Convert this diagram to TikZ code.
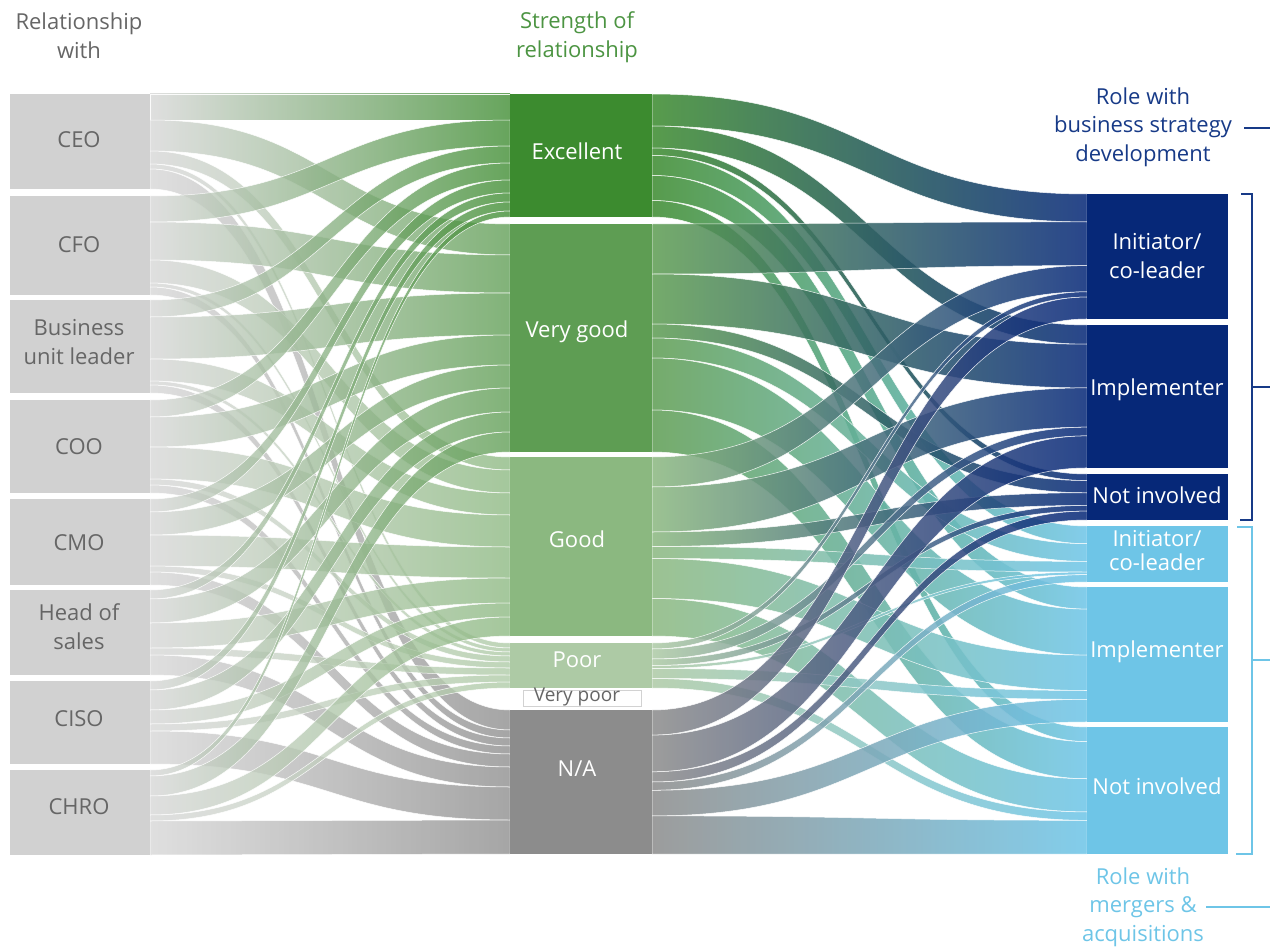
\documentclass[tikz,border=0pt]{standalone}
\usepackage{fontspec}
\setmainfont{Open Sans}
\definecolor{lgray}{HTML}{D1D1D1}
\definecolor{flowgray}{HTML}{D6D6D6}
\definecolor{txtgray}{HTML}{666666}
\definecolor{exc}{HTML}{3C8B2F}
\definecolor{vg}{HTML}{5E9D53}
\definecolor{good}{HTML}{8BB880}
\definecolor{poor}{HTML}{ADCAA5}
\definecolor{na}{HTML}{8C8C8C}
\definecolor{dblue}{HTML}{062878}
\definecolor{lblue}{HTML}{6EC5E7}
\definecolor{dtitle}{HTML}{173A87}
\definecolor{gtitle}{HTML}{4C9442}
\colorlet{mid0}{exc}
\colorlet{mid1}{vg}
\colorlet{mid2}{good}
\colorlet{mid3}{poor}
\colorlet{mid4}{na}
\colorlet{rc0}{dblue}
\colorlet{rc1}{dblue}
\colorlet{rc2}{dblue}
\colorlet{rc3}{lblue}
\colorlet{rc4}{lblue}
\colorlet{rc5}{lblue}
\newcommand\lab{\fontsize{22}{29}\selectfont}
\newcommand\sband[9]{%
  \pgfmathsetmacro\xm{(#1+#4)/2}%
  \path[flowstyle, fill opacity=#9, left color=#7, right color=#8]
    (#1,#2) .. controls (\xm,#2) and (\xm,#5) .. (#4,#5) -- (#4,#6)
    .. controls (\xm,#6) and (\xm,#3) .. (#1,#3) -- cycle;}
\tikzset{
  flowstyle/.style={draw=white, draw opacity=0.9, line width=0.5pt},
  lbox/.style={fill=lgray, anchor=north west, inner sep=0pt, minimum width=140pt},
  mbox/.style={anchor=north west, inner sep=0pt, minimum width=142pt},
  rbox/.style={anchor=north west, inner sep=0pt, minimum width=141pt},
  ltxt/.style={text=txtgray, align=center, font=\lab, inner sep=0pt},
  wtxt/.style={text=white, align=center, font=\lab, inner sep=0pt},
  ttl/.style={align=center, font=\fontsize{22}{28.5}\selectfont, inner sep=0pt},
  brk/.style={line width=1.3pt}
}
\begin{document}
\begin{tikzpicture}[x=1pt,y=-1pt]
\useasboundingbox (0,0) rectangle (1270,947);
% ---------- offsets ----------
\foreach \i/\t in {0/94,1/196,2/300,3/400,4/499,5/590,6/681,7/770}
  {\expandafter\xdef\csname loff\i\endcsname{\t}}
\foreach \j/\t in {0/94,1/224,2/457,3/643,4/710}
  {\expandafter\xdef\csname moff\j\endcsname{\t}
   \expandafter\xdef\csname mout\j\endcsname{\t}}
\foreach \k/\t in {0/194,1/325,2/474,3/526,4/587,5/727}
  {\expandafter\xdef\csname roff\k\endcsname{\t}}
% ---------- left -> middle flows ----------
\foreach \row [count=\i from 0] in {{26,31,13,5,20},{26,38,23,4,8},{17,42,22,4,8},{17,30,32,6,8},{13,23,31,6,13},{9,24,25,7,20},{9,20,14,7,33},{6,20,19,6,34}}{
  \foreach \v [count=\j from 0] in \row {
    \edef\ya{\csname loff\i\endcsname}
    \edef\yc{\csname moff\j\endcsname}
    \pgfmathsetmacro\yb{\ya+\v}
    \pgfmathsetmacro\yd{\yc+\v}
    \sband{150}{\ya}{\yb}{510}{\yc}{\yd}{flowgray}{mid\j}{0.78}
    \expandafter\xdef\csname loff\i\endcsname{\yb}
    \expandafter\xdef\csname moff\j\endcsname{\yd}
  }
}
% ---------- middle -> right flows ----------
\foreach \row [count=\j from 0] in {{32,22,7.5,20,25,16.5},{50,50,14,20,52,42},{30,45,14.5,12,40,37.5},{6,10,6.5,3,10,9.5},{25.1,36.7,10.2,8.3,25.6,38.1}}{
  \foreach \v [count=\k from 0] in \row {
    \pgfmathsetmacro\f{\k<3 ? 0.8734 : 0.8846}
    \edef\ya{\csname mout\j\endcsname}
    \edef\yc{\csname roff\k\endcsname}
    \pgfmathsetmacro\yb{\ya+\v}
    \pgfmathsetmacro\yd{\yc+\v*\f}
    \sband{652}{\ya}{\yb}{1087}{\yc}{\yd}{mid\j}{rc\k}{0.86}
    \expandafter\xdef\csname mout\j\endcsname{\yb}
    \expandafter\xdef\csname roff\k\endcsname{\yd}
  }
}
% ---------- left nodes ----------
\node[lbox, minimum height=95pt] (ceo) at (10,94) {};
\node[lbox, minimum height=99pt] (cfo) at (10,196) {};
\node[lbox, minimum height=93pt] (bul) at (10,300) {};
\node[lbox, minimum height=93pt] (coo) at (10,400) {};
\node[lbox, minimum height=86pt] (cmo) at (10,499) {};
\node[lbox, minimum height=85pt] (hos) at (10,590) {};
\node[lbox, minimum height=83pt] (ciso) at (10,681) {};
\node[lbox, minimum height=85pt] (chro) at (10,770) {};
\node[ltxt] (ceoL) at (79,140) {CEO};
\node[ltxt] (cfoL) at (79,245) {CFO};
\node[ltxt] (bulL) at (79,342) {Business\\unit leader};
\node[ltxt] (cooL) at (79,447) {COO};
\node[ltxt] (cmoL) at (79,543) {CMO};
\node[ltxt] (hosL) at (79,627) {Head of\\sales};
\node[ltxt] (cisoL) at (79,719) {CISO};
\node[ltxt] (chroL) at (79,807) {CHRO};
% ---------- middle nodes ----------
\node[mbox, fill=exc, minimum height=123pt] (excellent) at (510,94) {};
\node[mbox, fill=vg, minimum height=228pt] (verygood) at (510,224) {};
\node[mbox, fill=good, minimum height=179pt] (good) at (510,457) {};
\node[mbox, fill=poor, minimum height=45pt] (poor) at (510,643) {};
\node[mbox, fill=na, minimum height=144pt] (na) at (510,710) {};
\draw[gray!35, fill=white, line width=0.8pt] (523,690) rectangle (641,706);
\node[inner sep=0pt, text=txtgray, font=\fontsize{19}{22}\selectfont] (verypoor) at (577,697) {Very poor};
\node[wtxt] (excL) at (577,151) {Excellent};
\node[wtxt] (vgL) at (577,332) {Very good};
\node[wtxt] (goodL) at (577,539) {Good};
\node[wtxt] (poorL) at (577,660) {Poor};
\node[wtxt] (naL) at (577,769) {N/A};
% ---------- right nodes ----------
\node[rbox, fill=dblue, minimum height=125pt] (dinit) at (1087,194) {};
\node[rbox, fill=dblue, minimum height=143pt] (dimpl) at (1087,325) {};
\node[rbox, fill=dblue, minimum height=46pt] (dnot) at (1087,474) {};
\node[rbox, fill=lblue, minimum height=56pt] (linit) at (1087,526) {};
\node[rbox, fill=lblue, minimum height=135pt] (limpl) at (1087,587) {};
\node[rbox, fill=lblue, minimum height=127pt] (lnot) at (1087,727) {};
\node[wtxt] (dinitL) at (1157,256) {Initiator/\\co-leader};
\node[wtxt] (dimplL) at (1157,390) {Implementer};
\node[wtxt] (dnotL) at (1157,495) {Not involved};
\node[wtxt, font=\fontsize{22}{24}\selectfont] (linitL) at (1157,551) {Initiator/\\co-leader};
\node[wtxt] (limplL) at (1157,652) {Implementer};
\node[wtxt] (lnotL) at (1157,786) {Not involved};
% ---------- titles ----------
\node[ttl, text=txtgray] (t1) at (79,36) {Relationship\\with};
\node[ttl, text=gtitle] (t2) at (577,37) {Strength of\\relationship};
\node[ttl, text=dtitle] (t3) at (1143,127) {Role with\\business strategy\\development};
\node[ttl, text=lblue] (t4) at (1143,907) {Role with\\mergers \&\\acquisitions};
% ---------- brackets ----------
\coordinate (d1) at (1241,194); \coordinate (d2) at (1252,194);
\coordinate (d3) at (1252,520); \coordinate (d4) at (1240,520);
\coordinate (dm) at (1252,387); \coordinate (de) at (1270,387);
\coordinate (ta) at (1244,128); \coordinate (tb) at (1270,128);
\draw[brk, dtitle] (d1) -- (d2) -- (d3) -- (d4);
\draw[brk, dtitle] (dm) -- (de);
\draw[brk, dtitle] (ta) -- (tb);
\coordinate (l1) at (1237,527); \coordinate (l2) at (1252,527);
\coordinate (l3) at (1252,854); \coordinate (l4) at (1236,854);
\coordinate (lm) at (1252,660); \coordinate (le) at (1270,660);
\coordinate (ua) at (1206,907); \coordinate (ub) at (1270,907);
\draw[brk, lblue] (l1) -- (l2) -- (l3) -- (l4);
\draw[brk, lblue] (lm) -- (le);
\draw[brk, lblue] (ua) -- (ub);
\end{tikzpicture}
\end{document}
